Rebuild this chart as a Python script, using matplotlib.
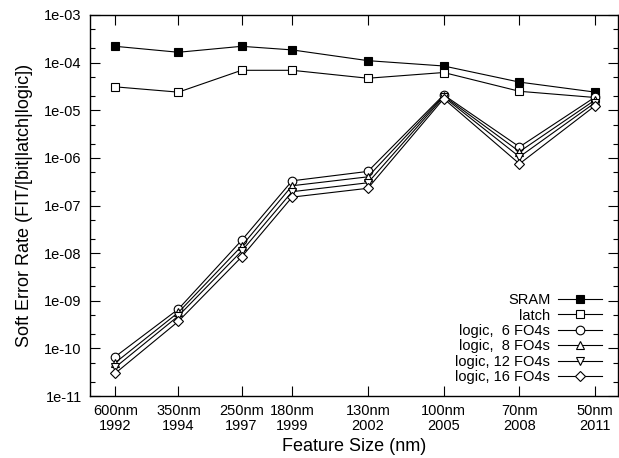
import numpy as np
import matplotlib
matplotlib.use("Agg")
import matplotlib.pyplot as plt
from matplotlib.ticker import FixedLocator, FuncFormatter, LogLocator, NullFormatter

plt.rcParams['font.family'] = ['Liberation Sans', 'DejaVu Sans']

# categories and their positions along the axis (non-uniform spacing as in the original)
nodes = ["600nm", "350nm", "250nm", "180nm", "130nm", "100nm", "70nm", "50nm"]
years = ["1992", "1994", "1997", "1999", "2002", "2005", "2008", "2011"]
x_pos = [0, 2.5, 5, 7, 10, 13, 16, 19]

sram = [2.2e-4, 1.65e-4, 2.2e-4, 1.85e-4, 1.1e-4, 8.5e-5, 3.9e-5, 2.4e-5]
latch = [3.1e-5, 2.4e-5, 6.9e-5, 6.9e-5, 4.7e-5, 6.2e-5, 2.5e-5, 1.85e-5]
logic6 = [6.7e-11, 6.7e-10, 1.85e-8, 3.3e-7, 5.2e-7, 2.1e-5, 1.7e-6, 1.9e-5]
logic8 = [5.0e-11, 5.7e-10, 1.4e-8, 2.6e-7, 4.0e-7, 2.0e-5, 1.35e-6, 1.65e-5]
logic12 = [4.0e-11, 4.8e-10, 1.1e-8, 1.95e-7, 3.0e-7, 1.9e-5, 1.05e-6, 1.45e-5]
logic16 = [3.0e-11, 3.7e-10, 8.3e-9, 1.5e-7, 2.3e-7, 1.75e-5, 7.5e-7, 1.25e-5]

labels = ["SRAM", "latch", "logic,  6 FO4s", "logic,  8 FO4s", "logic, 12 FO4s", "logic, 16 FO4s"]

fig = plt.figure(figsize=(6.19, 4.58), dpi=100)
ax = fig.add_axes([90/619, 1-396/458, (618-90)/619, (396-15)/458])

series = [sram, latch, logic6, logic8, logic12, logic16]
markers = ['s', 's', 'o', '^', 'v', 'D']
fills = ['black', 'white', 'white', 'white', 'white', 'white']
msizes = [6.2, 6.2, 6.2, 6, 6, 5]
for vals, lab, m, fc, ms in zip(series, labels, markers, fills, msizes):
    ax.plot(x_pos, vals, color='black', lw=0.8, marker=m, markersize=ms,
            markerfacecolor=fc, markeredgecolor='black', markeredgewidth=0.8,
            label=lab)

ax.set_yscale('log')
ax.set_ylim(1e-11, 1e-3)
ax.set_xlim(-1, 19.9)

ax.yaxis.set_major_locator(LogLocator(base=10, numticks=20))
ax.yaxis.set_minor_locator(LogLocator(base=10, subs=(2.0, 5.0), numticks=20))
ax.yaxis.set_minor_formatter(NullFormatter())
ax.yaxis.set_major_formatter(FuncFormatter(lambda v, p: "1e-%02d" % int(round(-np.log10(v)))))

ax.xaxis.set_major_locator(FixedLocator(x_pos))
ax.set_xticklabels([f"{n}\n{y}" for n, y in zip(nodes, years)], linespacing=1.05)

ax.tick_params(axis='both', which='both', direction='in', top=True, right=True, labelsize=10.5)
ax.tick_params(axis='both', which='major', length=7, width=0.8, pad=6)
ax.tick_params(axis='y', which='minor', length=3.5, width=0.8)
for s in ax.spines.values():
    s.set_linewidth(1.0)

ax.set_xlabel("Feature Size (nm)", fontsize=13, labelpad=4)
ax.set_ylabel("Soft Error Rate (FIT/[bit|latch|logic])", fontsize=13, labelpad=8)

leg = ax.legend(loc='lower right', bbox_to_anchor=(0.992, 0.0), frameon=False,
                markerfirst=False, fontsize=10.5, handlelength=3.0,
                handletextpad=0.55, labelspacing=0.1, borderpad=0.3)
for t in leg.get_texts():
    t.set_ha('right')

fig.savefig("out.png", dpi=100)
